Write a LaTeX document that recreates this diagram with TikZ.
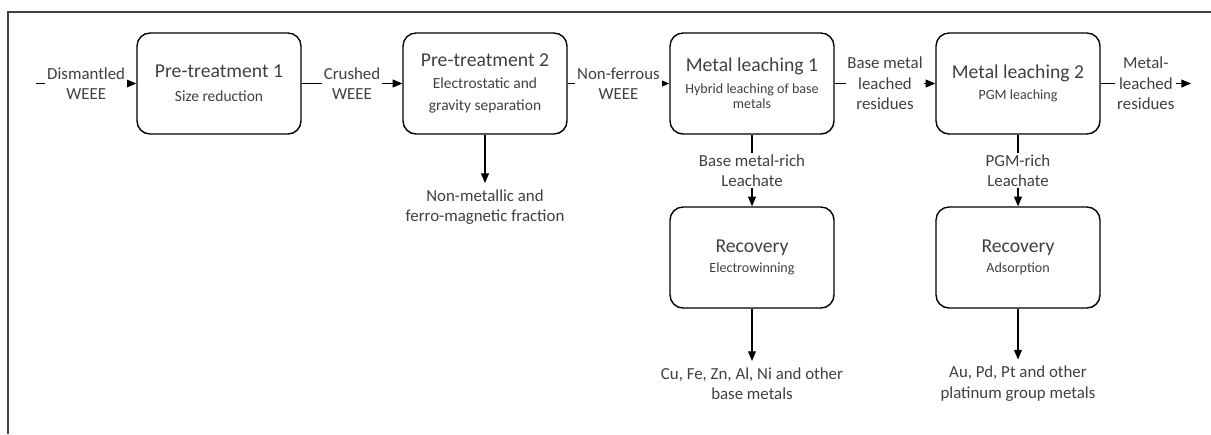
\documentclass[tikz,border=0pt]{standalone}
\usepackage{fontspec}
\setmainfont{Carlito}
\usetikzlibrary{arrows.meta}
\definecolor{textgray}{RGB}{64,64,64}
\tikzset{
    stage/.style={draw, rounded corners=0.26cm, minimum width=3.28cm, minimum height=2.02cm,
        align=center, line width=0.8pt, text=textgray, font=\fontsize{8.8}{12.5}\selectfont},
    flowlabel/.style={fill=white, inner sep=1pt, align=center, text=textgray,
        font=\fontsize{9.6}{11.7}\selectfont},
    product/.style={align=center, text=textgray, font=\fontsize{9.6}{11.7}\selectfont}
}
\newcommand{\stagetitle}[1]{{\fontsize{11.2}{13}\selectfont #1}}
\newcommand{\stagenote}[1]{{\fontsize{8}{9.6}\selectfont #1}}

\begin{document}
\begin{tikzpicture}[x=0.02cm, y=-0.02cm, line width=0.6pt, >={Triangle[length=5.5pt,width=4.5pt]}]
    \useasboundingbox (0,0) rectangle (1211,434);
    \draw[textgray, line width=1.2pt] (8,434) -- (8,12) -- (1211,12);

    \coordinate (in) at (36,83.5);
    \coordinate (out) at (1191,83.5);
    \node[stage] (pre1) at (219,83.5) {\stagetitle{Pre-treatment 1}\\[1.2pt]Size reduction};
    \node[stage] (pre2) at (485,83.5) {\stagetitle{Pre-treatment 2}\\Electrostatic and\\gravity separation};
    \node[stage] (leach1) at (752,83.5) {\stagetitle{Metal leaching 1}\\\stagenote{Hybrid leaching of base}\\[-4pt]\stagenote{metals}};
    \node[stage] (leach2) at (1018,83.5) {\stagetitle{Metal leaching 2}\\[-0.5pt]\stagenote{PGM leaching}};
    \node[stage] (rec1) at (752,257.5) {\stagetitle{Recovery}\\[-1pt]\stagenote{Electrowinning}};
    \node[stage] (rec2) at (1018,257.5) {\stagetitle{Recovery}\\[-1pt]\stagenote{Adsorption}};
    \node[product] (nonmet) at (485,207) {Non-metallic and\\ferro-magnetic fraction};
    \node[product] (basemet) at (752,383.5) {Cu, Fe, Zn, Al, Ni and other\\base metals};
    \node[product] (pgm) at (1018,383.5) {Au, Pd, Pt and other\\platinum group metals};

    \draw[->] (in) -- node[flowlabel] {Dismantled\\WEEE} (pre1);
    \draw[->] (pre1) -- node[flowlabel] {Crushed\\WEEE} (pre2);
    \draw[->] (pre2) -- node[flowlabel] {Non-ferrous\\WEEE} (leach1);
    \draw[->] (leach1) -- node[flowlabel] {Base metal\\leached\\residues} (leach2);
    \draw[->] (leach2) -- node[flowlabel] {Metal-\\leached\\residues} (out);
    \draw[->] (pre2) -- (nonmet);
    \draw[->] (leach1) -- node[flowlabel] {Base metal-rich\\Leachate} (rec1);
    \draw[->] (leach2) -- node[flowlabel] {PGM-rich\\Leachate} (rec2);
    \draw[->] (rec1) -- (basemet);
    \draw[->] (rec2) -- (pgm);
\end{tikzpicture}
\end{document}
